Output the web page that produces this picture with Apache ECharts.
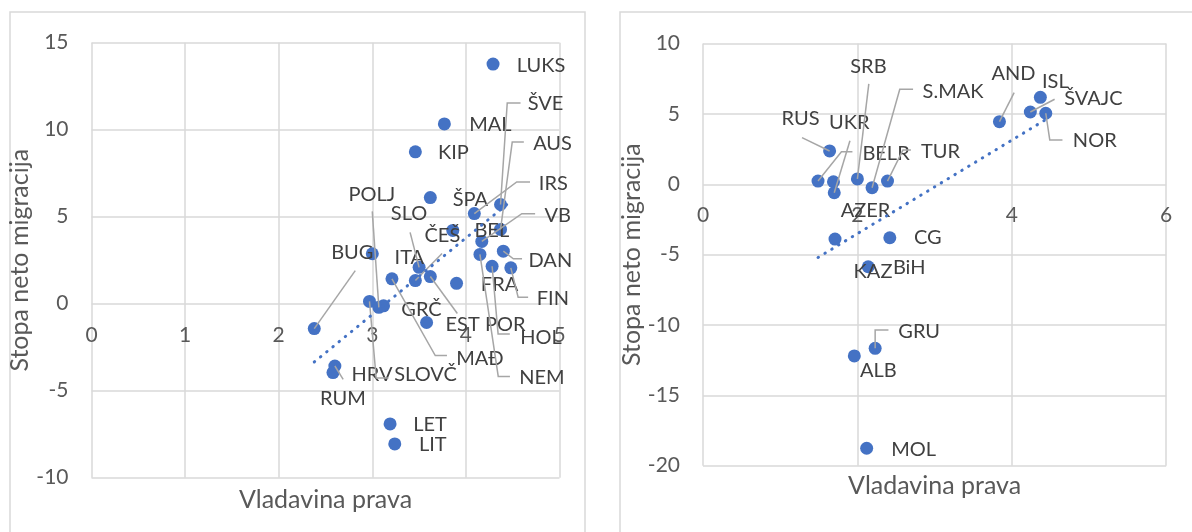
<!DOCTYPE html>
<html>
<head>
<meta charset="utf-8">
<script src="https://cdn.jsdelivr.net/npm/echarts@6/dist/echarts.min.js"></script>
<style>
html,body{margin:0;padding:0;background:#ffffff;}
#chart{width:1192px;height:532px;}
</style>
</head>
<body>
<div id="chart"></div>
<script>
// ---------- data ----------
const leftNames = ['LUKS','MAL','KIP','ŠPA','ŠVE','IRS','BEL','AUS','VB','DAN','NEM','HOL','FIN','FRA','ITA','SLO','POR','ČEŠ','MAĐ','SLOVČ','POLJ','GRČ','EST','BUG','RUM','HRV','LET','LIT'];
const leftRuleOfLaw = [4.29,3.77,3.46,3.62,4.37,4.09,3.86,4.37,4.17,4.40,4.15,4.28,4.48,3.90,3.00,3.50,3.62,3.46,3.21,2.97,3.07,3.12,3.58,2.38,2.60,2.58,3.19,3.24];
const leftMigration = [13.77,10.33,8.73,6.10,5.70,5.18,4.21,4.27,3.58,3.02,2.83,2.15,2.06,1.17,2.87,2.09,1.56,1.33,1.43,0.13,-0.21,-0.12,-1.08,-1.43,-3.58,-3.96,-6.91,-8.06];
const leftTrendX = [2.38, 4.46];
const leftTrendY = [-3.35, 5.80];

const rightNames = ['RUS','BELR','AZER','UKR','SRB','S.MAK','TUR','KAZ','CG','BiH','GRU','ALB','MOL','AND','ISL','ŠVAJC','NOR'];
const rightRuleOfLaw = [1.64,1.49,1.69,1.70,2.00,2.19,2.39,1.71,2.42,2.14,2.23,1.96,2.12,3.84,4.37,4.24,4.44];
const rightMigration = [2.37,0.23,0.18,-0.60,0.38,-0.24,0.23,-3.89,-3.80,-5.86,-11.66,-12.20,-18.76,4.45,6.18,5.14,5.05];
const rightTrendX = [1.49, 4.44];
const rightTrendY = [-5.20, 4.60];

// axis ranges [min, max, interval] and x tick labels (shown next to the y = 0 line)
const leftXAxisRange = [0, 5, 1];
const leftYAxisRange = [-10, 15, 5];
const rightXAxisRange = [0, 6, 2];
const rightYAxisRange = [-20, 10, 5];
const leftXTicks = [0, 1, 2, 3, 4, 5];
const rightXTicks = [0, 2, 4, 6];

const xTitle = 'Vladavina prava';
const yTitle = 'Stopa neto migracija';

// ---------- label placement (pixels relative to the marker) ----------
// [labelDx, labelDy, elbowDx, elbowDy, endDx, endDy] ; only two numbers = no leader line
const leftLabelPlacement = {
  'LUKS':[48,1], 'MAL':[46,1], 'KIP':[38,1], 'ŠPA':[40,2],
  'ŠVE':[45,-101, 6.7,-101.6, 20,-101.6],
  'IRS':[79,-30, 42.4,-31.6, 55.7,-31.6],
  'BEL':[39,0],
  'AUS':[52,-86, 11.7,-87.3, 23.3,-87.3],
  'VB':[76,-26, 40,-27.7, 53.3,-27.7],
  'DAN':[47,9, 10,7.6, 18.7,7.6],
  'NEM':[62,123, 18.3,122, 30,122],
  'HOL':[49,71, 6,67.6, 17.7,67.6],
  'FIN':[42,31, 7.3,29.4, 17.3,29.4],
  'FRA':[43,1], 'ITA':[37,4],
  'SLO':[-10,-54, -9,-35, -9,-35],
  'POR':[75,48, 27,37, 27,37],
  'ČEŠ':[27,-45, 26.7,-27, 26.7,-27],
  'MAĐ':[88,80, 43.3,76.7, 55,76.7],
  'SLOVČ':[56,73, 6.7,76.6, 19,76.6],
  'POLJ':[-7,-113, -6.6,-96, -6.6,-96],
  'GRČ':[38,4], 'EST':[36,2],
  'BUG':[38,-76, 41,-58, 41,-58],
  'RUM':[8,33, 8.3,13.3, 8.3,13.3],
  'HRV':[39,2], 'LET':[40,1], 'LIT':[38,1]
};
const rightLabelPlacement = {
  'RUS':[-29,-32, -27.6,-13.3, -27.6,-13.3],
  'BELR':[68,-28, 23.4,-29.3, 34.4,-29.3],
  'AZER':[32,29],
  'UKR':[15,-70, 15.7,-52, 15.7,-52],
  'SRB':[11,-112, 11.4,-95, 11.4,-95],
  'S.MAK':[81,-96, 27.7,-98.4, 41,-98.4],
  'TUR':[53,-30, 15.4,-31, 23.4,-31],
  'KAZ':[38,33], 'CG':[38,0], 'BiH':[41,1],
  'GRU':[44,-17, 0,-18.3, 13.3,-18.3],
  'ALB':[24,15], 'MOL':[47,1],
  'AND':[14,-48, 14.7,-29, 14.7,-29],
  'ISL':[15,-16],
  'ŠVAJC':[63,-13, 24.3,-12.7, 24.3,-12.7],
  'NOR':[49,27, 4,26.7, 16.7,26.7]
};

// ---------- styles ----------
const FONT = 'Lato, "Open Sans", sans-serif';
const GRID_COLOR = '#d9d9d9';
const TICK_COLOR = '#595959';
const LABEL_COLOR = '#404040';
const MARK_COLOR = '#4472C4';
const LEADER_COLOR = '#a6a6a6';
const TICK_FONT = 21;
const LABEL_FONT = 20;
const TITLE_FONT = 25;

function scatterData(names, xs, ys, placement) {
  return names.map((n, i) => ({
    name: n,
    value: [xs[i], ys[i]],
    label: { offset: [placement[n][0], placement[n][1]] }
  }));
}
function leaderData(names, xs, ys, placement) {
  const out = [];
  names.forEach((n, i) => { if (placement[n].length > 2) out.push([xs[i], ys[i], i]); });
  return out;
}
function leaderSeries(gridIdx, names, xs, ys, placement) {
  return {
    type: 'custom', xAxisIndex: gridIdx * 2, yAxisIndex: gridIdx, z: 4, silent: true,
    encode: { x: 0, y: 1 },
    data: leaderData(names, xs, ys, placement),
    renderItem: function (params, api) {
      const p = api.coord([api.value(0), api.value(1)]);
      const L = placement[names[api.value(2)]];
      return {
        type: 'polyline',
        shape: { points: [[p[0], p[1]], [p[0] + L[2], p[1] + L[3]], [p[0] + L[4], p[1] + L[5]]] },
        style: { stroke: LEADER_COLOR, lineWidth: 1.5, fill: null }
      };
    }
  };
}
// x tick labels placed next to the horizontal y = 0 axis line (Excel style)
function xTickSeries(gridIdx, ticks, gap) {
  return {
    type: 'custom', xAxisIndex: gridIdx * 2, yAxisIndex: gridIdx, z: 2, silent: true,
    encode: { x: 0, y: 1 },
    clip: false,
    data: ticks.map(t => [t, 0]),
    renderItem: function (params, api) {
      const p = api.coord([api.value(0), api.value(1)]);
      return {
        type: 'text',
        x: p[0], y: p[1] + gap,
        style: {
          text: String(api.value(0)), fill: TICK_COLOR, font: TICK_FONT + 'px ' + FONT,
          align: 'center', verticalAlign: 'middle'
        }
      };
    }
  };
}
function scatterSeries(gridIdx, names, xs, ys, placement) {
  return {
    type: 'scatter', xAxisIndex: gridIdx * 2, yAxisIndex: gridIdx, z: 3,
    symbol: 'circle', symbolSize: 13,
    itemStyle: { color: MARK_COLOR, opacity: 1 },
    label: {
      show: true, position: 'inside', formatter: '{b}',
      color: LABEL_COLOR, fontSize: LABEL_FONT, fontFamily: FONT,
      align: 'center', verticalAlign: 'middle'
    },
    emphasis: { disabled: true },
    data: scatterData(names, xs, ys, placement)
  };
}
function trendSeries(gridIdx, tx, ty) {
  return {
    type: 'line', xAxisIndex: gridIdx * 2, yAxisIndex: gridIdx, z: 5,
    symbol: 'none', silent: true,
    lineStyle: { color: MARK_COLOR, width: 3, type: [0.5, 7.5], cap: 'round' },
    data: tx.map((x, i) => [x, ty[i]])
  };
}
function xAxes(gridIdx, range, gap) {
  const base = { type: 'value', gridIndex: gridIdx, min: range[0], max: range[1], interval: range[2] };
  return [
    Object.assign({}, base, {
      axisLine: { show: false, onZero: false },
      axisTick: { show: false },
      axisLabel: { show: false },
      splitLine: { show: true, lineStyle: { color: GRID_COLOR, width: 1.5 } }
    }),
    Object.assign({}, base, {
      position: 'bottom',
      axisLine: { show: false, onZero: false },
      axisTick: { show: false }, axisLabel: { show: false }, splitLine: { show: false },
      name: xTitle, nameLocation: 'middle', nameGap: gap,
      nameTextStyle: { color: TICK_COLOR, fontSize: TITLE_FONT, fontFamily: FONT }
    })
  ];
}
function yAxis(gridIdx, range, gap) {
  return {
    type: 'value', gridIndex: gridIdx, min: range[0], max: range[1], interval: range[2],
    axisLine: { show: false, onZero: false },
    axisTick: { show: false },
    axisLabel: { color: TICK_COLOR, fontSize: TICK_FONT, fontFamily: FONT, margin: 23 },
    splitLine: { show: true, lineStyle: { color: GRID_COLOR, width: 1.5 } },
    name: yTitle, nameLocation: 'middle', nameGap: gap,
    nameTextStyle: { color: TICK_COLOR, fontSize: TITLE_FONT, fontFamily: FONT }
  };
}

const chart = echarts.init(document.getElementById('chart'), null, { renderer: 'canvas' });
chart.setOption({
  animation: false,
  backgroundColor: '#ffffff',
  graphic: [
    { type: 'rect', shape: { x: 10, y: 12, width: 575, height: 560 }, style: { fill: null, stroke: GRID_COLOR, lineWidth: 1.5 }, z: -1 },
    { type: 'rect', shape: { x: 620, y: 12, width: 600, height: 560 }, style: { fill: null, stroke: GRID_COLOR, lineWidth: 1.5 }, z: -1 }
  ],
  grid: [
    { left: 91.5, top: 42.7, width: 468, height: 435 },
    { left: 703, top: 43.6, width: 463.2, height: 422.1 }
  ],
  xAxis: xAxes(0, leftXAxisRange, 10).concat(xAxes(1, rightXAxisRange, 8)),
  yAxis: [yAxis(0, leftYAxisRange, 49), yAxis(1, rightYAxisRange, 49)],
  series: [
    xTickSeries(0, leftXTicks, 32),
    scatterSeries(0, leftNames, leftRuleOfLaw, leftMigration, leftLabelPlacement),
    leaderSeries(0, leftNames, leftRuleOfLaw, leftMigration, leftLabelPlacement),
    trendSeries(0, leftTrendX, leftTrendY),
    xTickSeries(1, rightXTicks, 31),
    scatterSeries(1, rightNames, rightRuleOfLaw, rightMigration, rightLabelPlacement),
    leaderSeries(1, rightNames, rightRuleOfLaw, rightMigration, rightLabelPlacement),
    trendSeries(1, rightTrendX, rightTrendY)
  ]
});
</script>
</body>
</html>
